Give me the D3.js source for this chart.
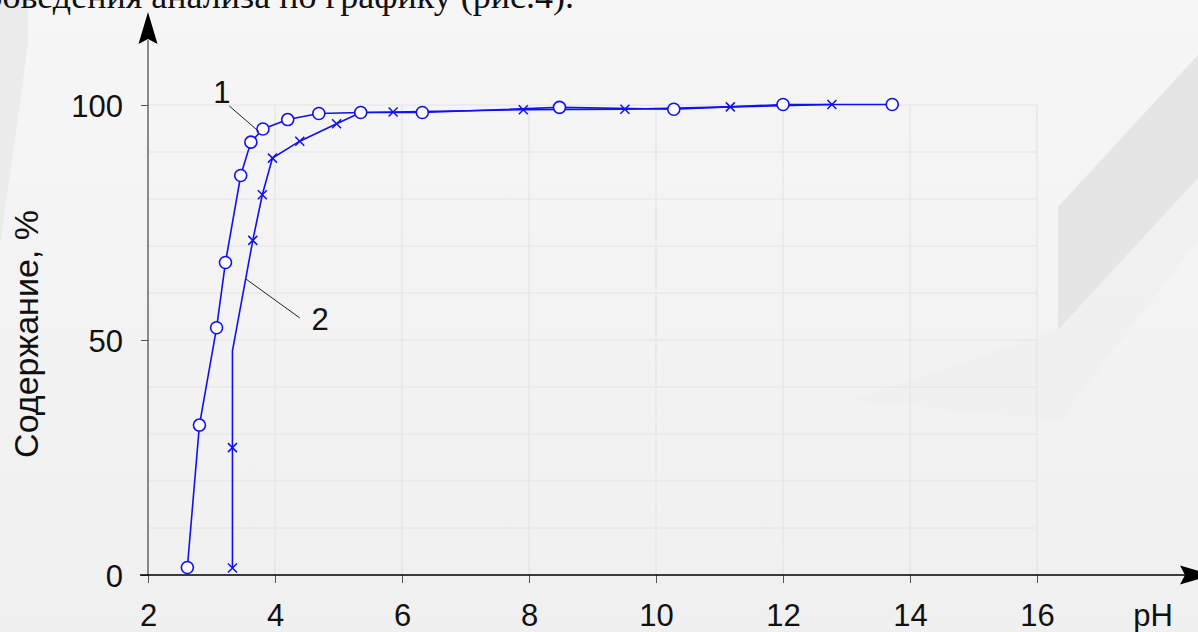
<!DOCTYPE html>
<html>
<head>
<meta charset="utf-8">
<script src="https://cdn.jsdelivr.net/npm/d3@7"></script>
<style>
  html, body { margin: 0; padding: 0; background: #f3f3f3; overflow: hidden; }
  svg { display: block; }
  .tick-label { font-family: "Liberation Sans", Arial, sans-serif; font-size: 31px; fill: #111; }
  .note { font-family: "Liberation Sans", Arial, sans-serif; font-size: 31px; fill: #111; }
  .title { font-family: "Liberation Sans", Arial, sans-serif; font-size: 34px; fill: #111; }
</style>
</head>
<body>
<svg id="chart" width="1198" height="632"></svg>
<script>
// кривая 1 (кружки)
let ph1 = [2.62, 2.81, 3.08, 3.22, 3.46, 3.62, 3.81, 4.20, 4.69, 5.35, 6.32, 8.48, 10.28, 12.0, 13.72];
let val1 = [1.6, 31.9, 52.6, 66.5, 85.0, 92.1, 94.9, 96.9, 98.2, 98.4, 98.4, 99.5, 99.1, 100.1, 100.1];

// кривая 2 (крестики), mark2 = 0 -> точка без маркера
let ph2 = [3.33, 3.33, 3.33, 3.65, 3.80, 3.96, 4.39, 4.97, 5.35, 5.86, 7.91, 9.51, 11.17, 12.77];
let val2 = [1.5, 27.1, 47.7, 71.2, 80.9, 88.7, 92.3, 96.0, 98.4, 98.5, 99.0, 99.1, 99.6, 100.1];
let mark2 = [1, 1, 0, 1, 1, 1, 1, 1, 0, 1, 1, 1, 1, 1];

let xTicks = [2, 4, 6, 8, 10, 12, 14, 16];
let yTicks = [0, 50, 100];
let yGrid = [0, 10, 20, 30, 40, 50, 60, 70, 80, 90, 100];

// подписи кривых: номер, позиция текста, выноска
let labels = ["1", "2"];
let labelPos = [[3.165, 100.4], [4.71, 52.1]];
let leaders = [[[3.28, 99.8], [3.75, 94.3]], [[3.54, 63.0], [4.39, 54.7]]];

let svg = d3.select("#chart");

// фон с водяным знаком
let defs = svg.append("defs");
let grad = defs.append("linearGradient").attr("id", "bg").attr("x1", 0).attr("y1", 0).attr("x2", 0).attr("y2", 1);
grad.append("stop").attr("offset", "0%").attr("stop-color", "#f6f6f6");
grad.append("stop").attr("offset", "100%").attr("stop-color", "#f0f0f0");
svg.append("rect").attr("width", 1198).attr("height", 632).attr("fill", "url(#bg)");
svg.append("polygon").attr("points", "0,0 28,0 28,45 0,245").attr("fill", "#ebebeb");
svg.append("polygon").attr("points", "1058,207 1198,55 1198,178 1058,330").attr("fill", "#e5e5e5");
svg.append("polygon").attr("points", "1058,330 1198,178 1198,240 1060,420 850,400").attr("fill", "#efefef").attr("opacity", 0.6);

// текст сверху (обрезан краем)
svg.append("text")
  .attr("x", 574).attr("y", 8)
  .attr("text-anchor", "end")
  .style("font-family", "'Liberation Serif', 'Times New Roman', serif")
  .style("font-size", "36px")
  .attr("fill", "#111")
  .text("проведения анализа по графику (рис.4).");

let x = d3.scaleLinear().domain([2, 16]).range([148, 1037]);
let y = d3.scaleLinear().domain([0, 100]).range([575, 105]);

// сетка
let grid = svg.append("g");
grid.selectAll(".hg").data(yGrid).enter().append("line")
  .attr("x1", x(2)).attr("x2", x(16))
  .attr("y1", d => y(d)).attr("y2", d => y(d))
  .attr("stroke", "#e4e4e4").attr("stroke-width", 1.2);
grid.selectAll(".vg").data(xTicks.slice(1)).enter().append("line")
  .attr("x1", d => x(d)).attr("x2", d => x(d))
  .attr("y1", y(100)).attr("y2", y(0))
  .attr("stroke", "#e4e4e4").attr("stroke-width", 1.2);

// оси
let xAxis = d3.axisBottom(x).tickValues(xTicks).tickSize(8).tickFormat(d3.format("d"));
let gx = svg.append("g").attr("transform", "translate(0," + y(0) + ")").call(xAxis);
gx.select(".domain").remove();
gx.selectAll(".tick line").attr("stroke", "#555");
gx.selectAll(".tick text").attr("class", "tick-label").attr("y", 51).attr("dy", null);

let yAxis = d3.axisLeft(y).tickValues(yTicks).tickSize(7);
let gy = svg.append("g").attr("transform", "translate(" + x(2) + ",0)").call(yAxis);
gy.select(".domain").remove();
gy.selectAll(".tick line").attr("stroke", "#555");
gy.selectAll(".tick text").attr("class", "tick-label").attr("x", -25).attr("dy", "0.36em");

svg.append("line").attr("x1", x(2)).attr("x2", x(2)).attr("y1", y(0)).attr("y2", 40)
  .attr("stroke", "#444").attr("stroke-width", 1.2);
svg.append("line").attr("x1", 140).attr("x2", 1190).attr("y1", y(0)).attr("y2", y(0))
  .attr("stroke", "#000").attr("stroke-width", 1.6);

// стрелки осей
svg.append("path").attr("d", "M148,12 L157.5,44 L148,39 L138.5,44 Z").attr("fill", "#000");
svg.append("path").attr("d", "M1212,575 L1180,565.5 L1185,575 L1180,584.5 Z").attr("fill", "#000");

svg.append("text").attr("class", "tick-label")
  .attr("x", 1153).attr("y", 626).attr("text-anchor", "middle").text("pH");

svg.append("text").attr("class", "title")
  .attr("transform", "translate(38,334) rotate(-90)")
  .attr("text-anchor", "middle")
  .text("Содержание, %");

// линии
let line = d3.line().x(d => x(d[0])).y(d => y(d[1]));
let pts1 = ph1.map((p, i) => [p, val1[i]]);
let pts2 = ph2.map((p, i) => [p, val2[i], mark2[i]]);

svg.append("path").datum(pts2).attr("d", line)
  .attr("fill", "none").attr("stroke", "#1010f5").attr("stroke-width", 1.6);
svg.append("path").datum(pts1).attr("d", line)
  .attr("fill", "none").attr("stroke", "#1010f5").attr("stroke-width", 1.6);

// крестики
let cross = svg.append("g").selectAll("g").data(pts2.filter(d => d[2] === 1)).enter().append("g")
  .attr("transform", d => "translate(" + x(d[0]) + "," + y(d[1]) + ")");
cross.append("path").attr("d", "M-4.5,-4.5 L4.5,4.5 M-4.5,4.5 L4.5,-4.5")
  .attr("stroke", "#1010f5").attr("stroke-width", 1.5).attr("fill", "none");

// кружки
svg.append("g").selectAll("circle").data(pts1).enter().append("circle")
  .attr("cx", d => x(d[0])).attr("cy", d => y(d[1])).attr("r", 6)
  .attr("fill", "#fff").attr("stroke", "#1010f5").attr("stroke-width", 1.6);

// подписи и выноски
svg.append("g").selectAll("line").data(leaders).enter().append("line")
  .attr("x1", d => x(d[0][0])).attr("y1", d => y(d[0][1]))
  .attr("x2", d => x(d[1][0])).attr("y2", d => y(d[1][1]))
  .attr("stroke", "#222").attr("stroke-width", 1);
svg.append("g").selectAll("text").data(labels).enter().append("text")
  .attr("class", "note")
  .attr("x", (d, i) => x(labelPos[i][0])).attr("y", (d, i) => y(labelPos[i][1]))
  .attr("text-anchor", "middle")
  .text(d => d);
</script>
</body>
</html>
